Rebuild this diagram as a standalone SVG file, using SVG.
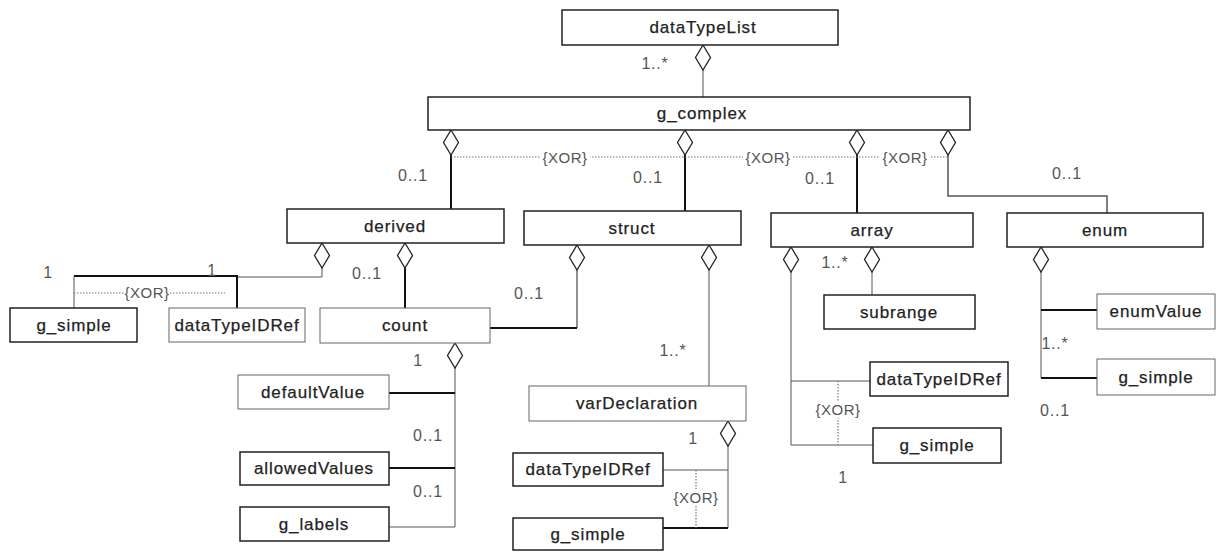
<svg xmlns="http://www.w3.org/2000/svg" width="1224" height="552" viewBox="0 0 1224 552">
<style>
.bx{fill:#fff;stroke:#222;stroke-width:1.5}
.bt{fill:#fff;stroke:#666;stroke-width:1}
.t{font-family:"Liberation Sans",Arial,sans-serif;font-size:17px;letter-spacing:0.9px;fill:#222;stroke:#222;stroke-width:0.25;text-anchor:middle}
.m{font-family:"Liberation Sans",Arial,sans-serif;font-size:16px;letter-spacing:0.8px;fill:#555;text-anchor:middle}
.x{font-family:"Liberation Sans",Arial,sans-serif;font-size:15px;letter-spacing:0.5px;fill:#555;text-anchor:middle}
.k{fill:none;stroke:#111;stroke-width:2}
.n{fill:none;stroke:#555;stroke-width:1}
.d{fill:none;stroke:#777;stroke-width:1.2;stroke-dasharray:1.5 1.5}
.dia{fill:#fff;stroke:#222;stroke-width:1.3}
</style>
<defs>
<path id="dm" class="dia" d="M0,0 L7.5,12.5 L0,25 L-7.5,12.5 Z"/>
</defs>
<rect width="1224" height="552" fill="#fff"/>
<g id="connectors">
<path class="n" d="M703,70 V97"/>
<path class="k" d="M451,155 V209"/>
<path class="k" d="M685,155 V211"/>
<path class="k" d="M857,155 V213"/>
<path class="n" style="stroke-width:1.5" d="M948,155 V196 H1107 V213"/>
<path class="d" d="M451,157 H948"/>
<path class="n" d="M322,268 V277 H237"/>
<path class="k" d="M74,276 H237 V308"/>
<path class="n" d="M74,276 V308"/>
<path class="d" d="M74,293 H225"/>
<path class="k" d="M405,268 V308"/>
<path class="n" style="stroke-width:1.3" d="M577,270 V328"/>
<path class="k" d="M577,328 H490"/>
<path class="n" d="M709,270 V386"/>
<path class="n" d="M455,368 V527 H389"/>
<path class="k" d="M389,393 H455 M389,468 H455"/>
<path class="n" d="M728,446 V528 M663,470 H728"/>
<path class="k" d="M663,528 H728"/>
<path class="d" d="M696,470 V528"/>
<path class="n" d="M791,272 V445 H873 M791,381 H870"/>
<path class="d" d="M838,381 V445"/>
<path class="n" d="M872,272 V295"/>
<path class="n" d="M1041,272 V378"/>
<path class="k" d="M1041,310 H1097 M1041,378 H1097"/>
<rect x="540" y="149" width="50" height="17" fill="#fff"/>
<rect x="743" y="149" width="50" height="17" fill="#fff"/>
<rect x="880" y="149" width="50" height="17" fill="#fff"/>
<rect x="124" y="285" width="46" height="16" fill="#fff"/>
<rect x="674" y="489" width="44" height="17" fill="#fff"/>
<rect x="816" y="401" width="44" height="17" fill="#fff"/>
<text class="x" x="565" y="163">{XOR}</text>
<text class="x" x="768" y="163">{XOR}</text>
<text class="x" x="905" y="163">{XOR}</text>
<text class="x" x="147" y="298">{XOR}</text>
<text class="x" x="696" y="503">{XOR}</text>
<text class="x" x="838" y="415">{XOR}</text>
<use href="#dm" x="703" y="45"/>
<use href="#dm" x="451" y="130"/>
<use href="#dm" x="685" y="130"/>
<use href="#dm" x="857" y="130"/>
<use href="#dm" x="948" y="130"/>
<use href="#dm" x="322" y="243"/>
<use href="#dm" x="405" y="243"/>
<use href="#dm" x="577" y="245"/>
<use href="#dm" x="709" y="245"/>
<use href="#dm" x="791" y="247"/>
<use href="#dm" x="872" y="247"/>
<use href="#dm" x="1041" y="247"/>
<use href="#dm" x="455" y="343"/>
<use href="#dm" x="728" y="421"/>
<text class="m" x="655" y="69">1..*</text>
<text class="m" x="413" y="181">0..1</text>
<text class="m" x="648" y="183">0..1</text>
<text class="m" x="820" y="184">0..1</text>
<text class="m" x="1067" y="179">0..1</text>
<text class="m" x="48" y="278">1</text>
<text class="m" x="212" y="276">1</text>
<text class="m" x="367" y="279">0..1</text>
<text class="m" x="529" y="299">0..1</text>
<text class="m" x="673" y="356">1..*</text>
<text class="m" x="418" y="366">1</text>
<text class="m" x="428" y="441">0..1</text>
<text class="m" x="428" y="497">0..1</text>
<text class="m" x="693" y="444">1</text>
<text class="m" x="835" y="268">1..*</text>
<text class="m" x="843" y="483">1</text>
<text class="m" x="1055" y="349">1..*</text>
<text class="m" x="1055" y="416">0..1</text>
</g>
<g id="dataTypeList"><rect class="bx" x="562" y="10" width="276" height="35"/><text class="t" x="703" y="33">dataTypeList</text></g>
<g id="g_complex"><rect class="bx" x="428" y="97" width="542" height="33"/><text class="t" x="702" y="119">g_complex</text></g>
<g id="derived"><rect class="bx" x="287" y="209" width="217" height="34"/><text class="t" x="395" y="232">derived</text></g>
<g id="struct"><rect class="bx" x="524" y="211" width="217" height="34"/><text class="t" x="632" y="234">struct</text></g>
<g id="array"><rect class="bx" x="771" y="213" width="202" height="34"/><text class="t" x="872" y="236">array</text></g>
<g id="enum"><rect class="bx" x="1007" y="213" width="196" height="34"/><text class="t" x="1105" y="236">enum</text></g>
<g id="g_simple_derived"><rect class="bx" x="10" y="308" width="127" height="34"/><text class="t" x="74" y="331">g_simple</text></g>
<g id="dataTypeIDRef_derived"><rect class="bt" x="169" y="308" width="136" height="34"/><text class="t" x="237" y="331">dataTypeIDRef</text></g>
<g id="count"><rect class="bt" x="320" y="308" width="170" height="35"/><text class="t" x="405" y="331">count</text></g>
<g id="defaultValue"><rect class="bt" x="238" y="375" width="151" height="34"/><text class="t" x="313" y="398">defaultValue</text></g>
<g id="allowedValues"><rect class="bx" x="240" y="452" width="149" height="33"/><text class="t" x="314" y="474">allowedValues</text></g>
<g id="g_labels"><rect class="bx" x="240" y="507" width="149" height="34"/><text class="t" x="314" y="530">g_labels</text></g>
<g id="varDeclaration"><rect class="bt" x="529" y="386" width="217" height="35"/><text class="t" x="637" y="409">varDeclaration</text></g>
<g id="dataTypeIDRef_struct"><rect class="bx" x="513" y="453" width="150" height="33"/><text class="t" x="588" y="475">dataTypeIDRef</text></g>
<g id="g_simple_struct"><rect class="bx" x="513" y="518" width="150" height="32"/><text class="t" x="588" y="540">g_simple</text></g>
<g id="subrange"><rect class="bx" x="824" y="295" width="151" height="34"/><text class="t" x="899" y="318">subrange</text></g>
<g id="dataTypeIDRef_array"><rect class="bx" x="870" y="362" width="138" height="34"/><text class="t" x="939" y="385">dataTypeIDRef</text></g>
<g id="g_simple_array"><rect class="bx" x="873" y="428" width="128" height="35"/><text class="t" x="937" y="451">g_simple</text></g>
<g id="enumValue"><rect class="bt" x="1097" y="294" width="118" height="35"/><text class="t" x="1156" y="317">enumValue</text></g>
<g id="g_simple_enum"><rect class="bt" x="1097" y="359" width="118" height="36"/><text class="t" x="1156" y="383">g_simple</text></g>
</svg>
